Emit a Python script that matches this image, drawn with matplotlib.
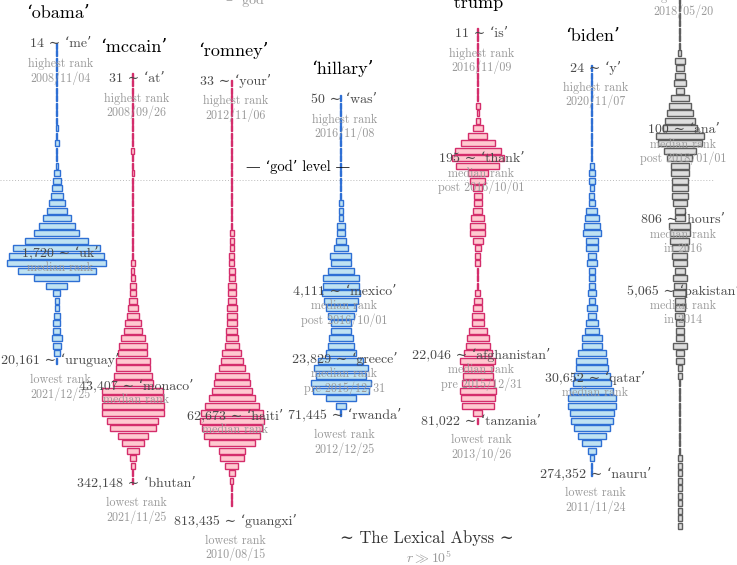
import numpy as np
import matplotlib.pyplot as plt

plt.rcParams['font.family'] = ['cmr10', 'DejaVu Serif', 'DejaVu Sans']
plt.rcParams['mathtext.fontset'] = 'cm'

# rank histograms: bins are 0.075 wide in log10(rank), bin k centred at 0.0375 + 0.075 k
BIN = 0.075

obama_start = 15
obama_counts = [1, 1, 1, 1, 1, 1, 1, 1, 1, 1, 1, 2.5, 1, 3.5, 1, 1, 1.5,
                5.3, 7.3, 9.3, 12.7, 16, 20.7, 28, 36, 45, 63, 87, 95, 99, 78, 45, 21,
                7, 4, 4, 6, 7, 7, 10.7, 8.7, 6, 1]

mccain_start = 19
mccain_counts = [1, 1, 1, 1, 1, 1, 1, 1, 1, 1, 3, 1, 1, 2.5, 1, 1, 1, 1, 1, 1, 1, 1, 1, 1, 1,
                 4, 3, 4.3, 5.3, 6.7, 8.3, 10.3, 12.3, 16.3, 18.3, 24.7, 28.3, 29, 34, 34, 37.3,
                 40, 61, 61, 62, 62, 51, 46.7, 30.7, 22, 11.3, 5.3, 3.3, 1, 1]

romney_start = 20
romney_counts = [1, 1, 1, 1, 1, 1, 1, 1, 1, 1, 1, 1, 1, 1, 1, 1, 1, 1, 1, 1,
                 3.3, 4, 3.7, 5, 5, 5.3, 6, 7.3, 8, 8.7, 10, 10, 10.7, 11, 11.3, 13.3, 19, 21.7,
                 25.7, 34.7, 35.7, 39.3, 45.3, 53.3, 61.7, 63.7, 60, 55.7, 45.7, 25.3, 24, 13,
                 5.7, 3, 1, 1, 1]

hillary_start = 22
hillary_counts = [1, 1, 1, 1, 1, 1, 1, 1, 1, 1, 1, 1, 1, 1,
                  3.3, 3.3, 3.3, 7.3, 7.7, 9.3, 13.3, 21, 20, 25.3, 35.3, 35.7, 38, 33.7, 29.3,
                  26.7, 20, 20.3, 23.7, 26, 30.3, 45, 54, 50, 59.3, 56.7, 30.3, 10, 1]

trump_start = 13
trump_counts = [1, 1, 1, 1, 1, 1, 1, 1, 1, 1,
                4, 2, 4.7, 9.3, 19, 34, 46, 52, 43, 20, 15, 9, 8.5, 8, 9, 13, 15, 15, 10.7, 6.5,
                5, 5, 1, 1, 1, 5, 7.5, 9, 12, 11.5, 17.3, 22.5, 24.5, 27.5, 35, 30, 29.5, 32, 36,
                34, 32.3, 9, 1]

biden_start = 18
biden_counts = [1, 1, 1, 1, 1, 1, 1, 1, 1, 1, 1, 1, 1,
                3.7, 5.7, 5.7, 4.3, 5, 6.3, 11, 13.7, 16.3, 18.7, 11.7, 11.7, 8.7, 10.3, 6.7,
                5.7, 5.7, 8, 6, 9.3, 8, 11.3, 14, 19.5, 19.5, 28, 31, 32, 36, 38, 43, 48, 48, 44,
                42, 36, 27.7, 19, 8.7, 4.7, 1, 1]

god_start = 6
god_counts = [1, 1, 1, 1, 1, 1, 1, 1, 1, 1,
              3, 9.3, 8, 10.7, 11.7, 8.3, 18.7, 22.7, 26, 30, 34, 48, 44, 32, 25, 18.7, 18.3,
              15.3, 16.7, 15.5, 13.3, 10.5, 9.5, 21, 20, 19, 16.7, 15, 13.3, 10, 13.3, 12.7, 13,
              10.7, 9.3, 9, 8, 7.3, 8.5, 13.3, 8, 7.3, 4.3, 3.7,
              1, 1, 1, 1, 1, 1, 1, 1, 1, 1,
              3.5, 3.5, 3.5, 3.5, 3.5, 3.5, 3.5, 3.5, 3.5, 3.5]

names = ['obama', 'mccain', 'romney', 'hillary', 'trump', 'biden', 'god']
starts = [obama_start, mccain_start, romney_start, hillary_start, trump_start, biden_start, god_start]
counts = [obama_counts, mccain_counts, romney_counts, hillary_counts, trump_counts, biden_counts, god_counts]

# highest rank: (rank, word, date)
top_rank = [14, 31, 33, 50, 11, 24, 3]
top_word = ['me', 'at', 'your', 'was', 'is', 'y', 'the']
top_date = ['2008/11/04', '2008/09/26', '2012/11/06', '2016/11/08', '2016/11/09', '2020/11/07', '2018/05/20']

# lowest rank (god has none shown)
low_rank = [20161, 342148, 813435, 71445, 81022, 274352, None]
low_word = ['uruguay', 'bhutan', 'guangxi', 'rwanda', 'tanzania', 'nauru', None]
low_date = ['2021/12/25', '2021/11/25', '2010/08/15', '2012/12/25', '2013/10/26', '2011/11/24', None]

# median ranks: (column, rank, word, second line)
med_col = [0, 1, 2, 3, 3, 4, 4, 5, 6, 6, 6]
med_rank = [1720, 43407, 62673, 4111, 23829, 195, 22046, 30652, 100, 806, 5065]
med_word = ['uk', 'monaco', 'haiti', 'mexico', 'greece', 'thank', 'afghanistan', 'qatar',
            'ana', 'hours', 'pakistan']
med_note = [None, None, None, 'post 2016/10/01', 'pre 2015/12/31', 'post 2016/10/01',
            'pre 2015/12/31', None, 'post 2018/01/01', 'in 2016', 'in 2014']
med_nudge = [0, -8, 6, 0, -8, 0, -9, 0, 0, 0, -9]  # px shift of label

god_level_rank = 320

# layout
col_x = [57, 133, 232, 341, 478, 592, 680]
blue = ('#bfe2f2', '#2e6fd4')
pink = ('#ffc9d0', '#d42d6b')
grey = ('#dedede', '#5e5e5e')
col_style = [blue, pink, pink, blue, pink, blue, grey]

dark = '#4a4a4a'
light = '#9a9a9a'
PT = 0.72  # points per pixel at 100 dpi

fig = plt.figure(figsize=(7.37, 5.65), dpi=100)
ax = fig.add_axes([0, 0, 1, 1])
ax.set_xlim(0, 737)
ax.set_ylim(6.3545, 0.7045)
ax.axis('off')


def label(x, rank, text, dy_px=0, dx_px=3.5, color=dark, size=10):
    ax.annotate(text, xy=(x, np.log10(rank)), xytext=(dx_px * PT, -dy_px * PT),
                textcoords='offset points', ha='center', va='center',
                color=color, fontsize=size, zorder=5, annotation_clip=False)


for i, name in enumerate(names):
    c = np.array(counts[i], dtype=float)
    k = starts[i] + np.arange(len(c))
    centers = 0.0375 + BIN * k
    face, edge = col_style[i]
    ax.barh(centers, c, height=BIN * 0.8, left=col_x[i] - c / 2,
            color=face, edgecolor=edge, linewidth=1.0, zorder=2)

    x = col_x[i]
    label(x, top_rank[i], f"{top_rank[i]:,} \u223c \u2018{top_word[i]}\u2019")
    label(x, top_rank[i], 'highest rank', 20, color=light, size=8.7)
    label(x, top_rank[i], top_date[i], 34, color=light, size=8.7)
    label(x, top_rank[i], f"\u2018{name}\u2019", -31, dx_px=1, color='black', size=13)

    if low_rank[i] is not None:
        label(x, low_rank[i], f"{low_rank[i]:,} \u223c \u2018{low_word[i]}\u2019")
        label(x, low_rank[i], 'lowest rank', 20, color=light, size=8.7)
        label(x, low_rank[i], low_date[i], 34, color=light, size=8.7)

for j in range(len(med_rank)):
    x = col_x[med_col[j]]
    n = med_nudge[j]
    label(x, med_rank[j], f"{med_rank[j]:,} \u223c \u2018{med_word[j]}\u2019", n)
    label(x, med_rank[j], 'median rank', n + 15, color=light, size=8.7)
    if med_note[j]:
        label(x, med_rank[j], med_note[j], n + 29, color=light, size=8.7)

# god level
gl = np.log10(god_level_rank)
ax.plot([0, 713], [gl, gl], ls=(0, (1, 2)), color='#bbbbbb', lw=0.7, zorder=1)
ax.annotate('\u2014 \u2018god\u2019 level \u2014', xy=(298, gl), xytext=(0, 13 * PT),
            textcoords='offset points', ha='center', va='center', color='black', fontsize=10.5)

# x in data, y in axes fraction
xt = ax.get_xaxis_transform()

# fragment of the header key, cut by the top edge
ax.text(226, 1 - 1 / 565, '\u2013  god', transform=xt,
        ha='left', va='center', fontsize=10, color=light, clip_on=False)

ax.text(427, 1 - 538 / 565, '\u223c The Lexical Abyss \u223c', transform=xt,
        ha='center', va='center', fontsize=12, color='#333333')
ax.text(429, 1 - 557 / 565, r'$r \gg 10^5$', transform=xt,
        ha='center', va='center', fontsize=10, color=light)

fig.savefig('out.png', dpi=100)
